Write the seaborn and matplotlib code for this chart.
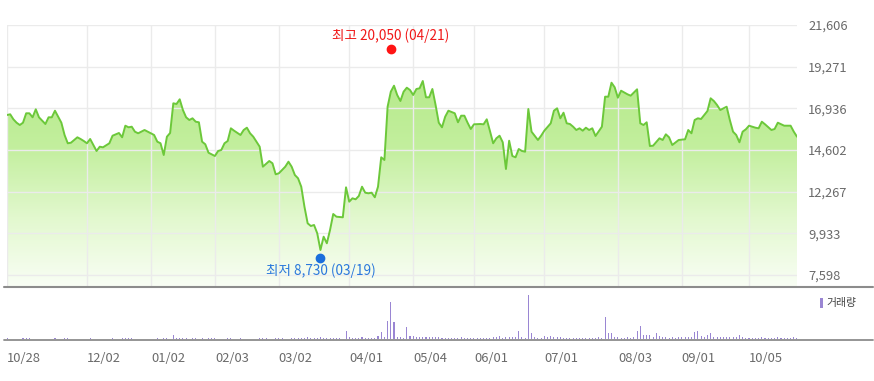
import numpy as np
import matplotlib
matplotlib.use("Agg")
import matplotlib.pyplot as plt
import matplotlib.transforms as mtransforms
from matplotlib.colors import LinearSegmentedColormap
from matplotlib.lines import Line2D
from matplotlib.patches import Rectangle
import seaborn as sns

# ---------------- data (trading-day index since 10/28) ----------------
price_day = [0, 1, 2, 3, 4, 5, 6, 7, 8, 9, 10, 12, 13, 14, 15, 16, 17, 18, 19, 20,
             22, 23, 24, 25, 26, 27, 28, 29, 30, 32, 33, 35, 36, 37, 38, 39, 40, 41, 43, 44,
             46, 47, 48, 49, 50, 51, 52, 53, 54, 55, 56, 57, 58, 59, 60, 61, 62, 63, 65, 66,
             67, 68, 69, 70, 71, 73, 74, 75, 76, 77, 79, 80, 82, 83, 84, 85, 87, 88, 89, 90,
             91, 92, 93, 94, 95, 96, 97, 98, 99, 100, 101, 102, 103, 105, 106, 107, 108, 109, 110, 111,
             112, 113, 114, 115, 116, 117, 118, 119, 120, 121, 122, 123, 124, 125, 126, 127, 128, 129, 130, 131,
             132, 133, 134, 135, 136, 137, 138, 140, 141, 142, 143, 144, 145, 146, 148, 149, 150, 151, 152, 153,
             154, 155, 156, 157, 158, 159, 160, 161, 162, 163, 164, 166, 167, 168, 170, 171, 172, 173, 174, 175,
             176, 177, 178, 179, 180, 181, 182, 183, 184, 186, 187, 188, 189, 190, 191, 192, 194, 195, 197, 198,
             199, 200, 201, 202, 204, 205, 206, 207, 208, 210, 212, 213, 214, 215, 216, 217, 219, 220, 221, 222,
             223, 225, 226, 227, 228, 229, 230, 231, 232, 234, 235, 236, 237, 239, 240, 241, 243, 245, 246, 247]
price_close = [16563, 16603, 16322, 16132, 16003, 16132, 16659, 16659, 16434, 16883, 16434, 16059, 16434, 16434, 16804, 16468, 16132, 15443, 14978, 15011,
               15314, 15219, 15107, 14978, 15219, 14882, 14546, 14787, 14753, 14978, 15403, 15555, 15314, 15964, 15874, 15908, 15628, 15538, 15723, 15628,
               15443, 15067, 14980, 14322, 15347, 15555, 17219, 17180, 17443, 16843, 16434, 16283, 16378, 16188, 16154, 15067, 14922, 14451, 14266, 14546,
               14602, 14978, 15107, 15818, 15684, 15443, 15723, 15852, 15538, 15347, 14787, 13667, 13986, 13857, 13241, 13297, 13667, 13947, 13667, 13201,
               13017, 12546, 11425, 10495, 10344, 10400, 9935, 8999, 9745, 9375, 10120, 11016, 10865, 10831, 12512, 11706, 11896, 11840, 12025, 12546,
               12210, 12176, 12210, 11952, 12546, 14193, 14042, 17028, 17869, 18205, 17684, 17348, 17869, 18093, 17964, 17684, 18020, 18059, 18468, 17555,
               17555, 18020, 17124, 16132, 15874, 16468, 16804, 16659, 16154, 16524, 16524, 16132, 15779, 16042, 16059, 16042, 16322, 15667, 14978, 15258,
               15403, 15034, 13538, 15123, 14266, 14193, 14658, 14546, 14507, 16899, 15628, 15163, 15403, 15684, 16098, 16804, 16939, 16378, 16692, 16098,
               16059, 15908, 15723, 15818, 15684, 15852, 15723, 15818, 15387, 15908, 17589, 17589, 18373, 18115, 17533, 17925, 17723, 17645, 18003, 16098,
               16003, 16154, 14826, 14843, 15258, 15163, 15482, 15314, 14882, 15163, 15202, 15723, 15538, 16283, 16378, 16339, 16787, 17499, 17348, 17124,
               16843, 17028, 16283, 15628, 15443, 15034, 15628, 15762, 15964, 15852, 15818, 16188, 16042, 15723, 15779, 16132, 15964, 15964, 15628, 15347]

# daily volume (thousand shares), index 0..247
volume = [50, 0, 0, 0, 0, 50, 50, 50, 0, 0,
          0, 0, 0, 0, 0, 50, 0, 0, 50, 50,
          0, 0, 0, 0, 0, 0, 50, 0, 0, 0,
          0, 0, 0, 50, 0, 0, 50, 50, 50, 50,
          0, 0, 0, 0, 0, 0, 0, 50, 0, 50,
          50, 0, 200, 50, 50, 50, 50, 0, 50, 50,
          0, 50, 0, 50, 50, 50, 0, 0, 0, 50,
          50, 0, 0, 50, 0, 0, 0, 0, 0, 50,
          50, 50, 0, 0, 50, 50, 50, 0, 0, 50,
          50, 50, 50, 50, 100, 50, 50, 50, 100, 50,
          50, 50, 50, 50, 50, 0, 400, 100, 50, 50,
          50, 100, 50, 50, 50, 50, 150, 350, 100, 900,
          1850, 850, 100, 100, 50, 600, 150, 150, 100, 100,
          100, 100, 100, 100, 100, 100, 50, 50, 50, 50,
          50, 50, 100, 50, 50, 50, 50, 50, 50, 50,
          50, 50, 100, 100, 150, 50, 100, 100, 100, 100,
          400, 100, 50, 2200, 300, 100, 50, 50, 150, 100,
          150, 100, 100, 100, 50, 50, 50, 50, 50, 50,
          50, 50, 50, 50, 50, 100, 50, 1100, 300, 300,
          100, 100, 50, 50, 100, 50, 100, 400, 650, 200,
          200, 200, 100, 300, 150, 100, 100, 50, 100, 50,
          100, 100, 100, 100, 100, 350, 400, 150, 100, 200,
          300, 100, 100, 100, 100, 100, 100, 100, 100, 200,
          100, 50, 50, 50, 50, 50, 100, 50, 50, 50,
          50, 100, 50, 50, 50, 50, 100, 50]
volume_day = list(range(len(volume)))

tick_days = [0, 25, 45, 65, 85, 107, 127, 146, 168, 191, 211, 232]
tick_labels = ['10/28', '12/02', '01/02', '02/03', '03/02', '04/01',
               '05/04', '06/01', '07/01', '08/03', '09/01', '10/05']
y_ticks = [7598, 9933, 12267, 14602, 16936, 19271, 21606]

high_day, high_value, high_label = 120, 20050, "최고 20,050 (04/21)"
low_day, low_value, low_label = 98, 8730, "최저 8,730 (03/19)"
legend_label = "거래량"

# ---------------- style ----------------
sns.set_style("white")
plt.rcParams['font.family'] = ['Noto Sans CJK KR', 'DejaVu Sans']

W, H = 874, 381
fig = plt.figure(figsize=(W / 100, H / 100), dpi=100)


def box(x0, y0, x1, y1):
    return [x0 / W, 1 - y1 / H, (x1 - x0) / W, (y1 - y0) / H]


ax = fig.add_axes(box(7, 24.5, 797, 287))
axv = fig.add_axes(box(7, 287, 797, 339))

XMAX = 247
YMIN, YMAX = 6926, 21634
LINE = '#6cc83a'
GRID = '#ebebeb'
LABEL = '#6a6a6a'
VOL = '#9a86d3'

# gradient area under the price line
poly = ax.fill_between(price_day, price_close, YMIN, color='none', lw=0)
cmap = LinearSegmentedColormap.from_list('g', ['#f9fef5', '#e2f8ce', '#c3ef9e', '#b6ea8b'])
grad = np.linspace(0, 1, 256).reshape(-1, 1)
im = ax.imshow(grad, extent=[0, XMAX, YMIN, 18600], origin='lower', cmap=cmap,
               aspect='auto', zorder=1)
im.set_clip_path(poly.get_paths()[0], transform=ax.transData)

sns.lineplot(x=price_day, y=price_close, ax=ax, color=LINE, lw=1.4, zorder=3)

ax.set_xlim(0, XMAX)
ax.set_ylim(YMIN, YMAX)
ax.set_xticks(tick_days)
ax.set_yticks(y_ticks)
ax.set_yticklabels([f"{v:,}" for v in y_ticks])
ax.set_axisbelow('line')
ax.grid(True, color=GRID, lw=1.0)
ax.yaxis.tick_right()
ax.tick_params(axis='x', length=0, labelbottom=False)
ax.tick_params(axis='y', length=0, pad=8, labelsize=9.3, labelcolor=LABEL)
ax.set_xlabel('')
ax.set_ylabel('')
for s in ax.spines.values():
    s.set_visible(False)

# high / low markers
up = mtransforms.offset_copy(ax.transData, fig=fig, x=0, y=2.7, units='points')
dn = mtransforms.offset_copy(ax.transData, fig=fig, x=0, y=-2.1, units='points')
ax.plot([high_day], [high_value], 'o', color='#ff1414', ms=6, transform=up, zorder=5, clip_on=False)
ax.plot([low_day], [low_value], 'o', color='#1a6fdc', ms=6, transform=dn, zorder=5, clip_on=False)
ax.annotate(high_label, xy=(high_day, high_value), xytext=(0, 12.1), textcoords='offset points',
            ha='center', va='center', fontsize=9.8, color='#f01818', annotation_clip=False)
ax.annotate(low_label, xy=(low_day, low_value), xytext=(0, -11.4), textcoords='offset points',
            ha='center', va='center', fontsize=9.8, color='#2a78dc', annotation_clip=False)

# volume panel
sns.barplot(x=volume_day, y=volume, ax=axv, native_scale=True, width=0.33,
            color=VOL, saturation=1, linewidth=0, errorbar=None)
for p in axv.patches:
    p.set_antialiased(False)
axv.set_xlim(0, XMAX)
axv.set_ylim(0, 2600)
axv.set_xticks(tick_days)
axv.set_xticklabels(tick_labels)
for lbl in axv.get_xticklabels():
    lbl.set_ha('left')
axv.set_yticks([])
axv.tick_params(axis='x', length=6, width=1, color='#8c8c8c', pad=3,
                labelsize=9.3, labelcolor=LABEL, direction='out')
axv.set_xlabel('')
axv.set_ylabel('')
axv.grid(False)
for s in axv.spines.values():
    s.set_visible(False)

# panel separator & baseline
fig.add_artist(Line2D([4 / W, 873 / W], [1 - 287 / H] * 2, color='#8c8c8c', lw=1.5))
fig.add_artist(Line2D([4 / W, 873 / W], [1 - 340 / H] * 2, color='#8c8c8c', lw=1.3))

# volume legend
fig.add_artist(Rectangle((820 / W, 1 - 308 / H), 3 / W, 10 / H, color=VOL, lw=0))
fig.text(826 / W, 1 - 303 / H, legend_label, fontsize=7.8, color='#444444', va='center', ha='left')

fig.savefig('out.png', dpi=100, facecolor='white')
